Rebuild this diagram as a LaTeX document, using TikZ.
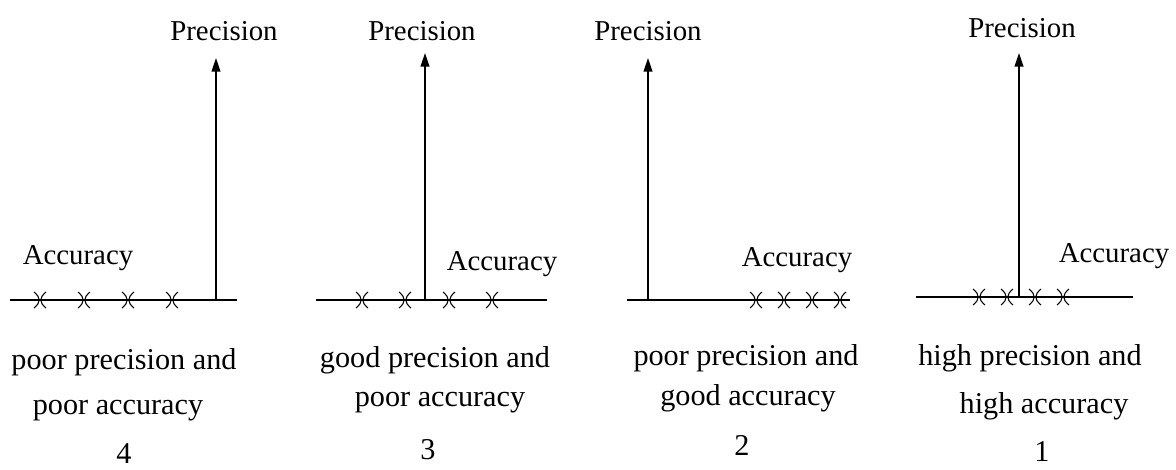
\documentclass[tikz,border=0pt]{standalone}
\usepackage{fontspec}
\setmainfont{Liberation Serif}
\usetikzlibrary{arrows.meta}
\tikzset{
  axis/.style={line width=1.1pt,black},
  yaxis/.style={line width=1.1pt,black,-{Triangle[length=3.4mm,width=2.2mm]}},
  lbl/.style={font=\fontsize{20.5}{24}\selectfont,inner sep=0pt},
  caption/.style={font=\fontsize{21.5}{25}\selectfont,inner sep=0pt,align=center},
  hit/.pic={\draw[line width=0.75pt] (-6,-8) .. controls (1,-2) and (1,2) .. (-6,8);
            \draw[line width=0.75pt] (6,-8) .. controls (-1,-2) and (-1,2) .. (6,8);}
}
\begin{document}
\begin{tikzpicture}[x=0.025cm,y=-0.025cm]
\useasboundingbox (0,0) rectangle (1176,469);
% panel 4: poor precision, poor accuracy
\coordinate (l4) at (10,300);
\coordinate (r4) at (237,300);
\coordinate (o4) at (216,300);
\coordinate (t4) at (216,58);
\draw[axis] (l4) -- (r4);
\draw[yaxis] (o4) -- (t4);
\node[lbl] (p4) at (224,31) {Precision};
\node[lbl] (a4) at (78,258) {Accuracy};
\foreach \x in {40,84,128,172} {\pic at (\x,300) {hit};}
\node[caption] (c4a) at (124,362) {poor precision and};
\node[caption] (c4b) at (118,411) {poor accuracy};
\node[caption] (n4) at (124,454) {4};
% panel 3: good precision, poor accuracy
\coordinate (l3) at (316,300);
\coordinate (r3) at (547,300);
\coordinate (o3) at (425,300);
\coordinate (t3) at (425,53);
\draw[axis] (l3) -- (r3);
\draw[yaxis] (o3) -- (t3);
\node[lbl] (p3) at (422,31) {Precision};
\node[lbl] (a3) at (502,264) {Accuracy};
\foreach \x in {362,405,449,492} {\pic at (\x,300) {hit};}
\node[caption] (c3a) at (435,360) {good precision and};
\node[caption] (c3b) at (440,403) {poor accuracy};
\node[caption] (n3) at (428,450) {3};
% panel 2: poor precision, good accuracy
\coordinate (l2) at (627,300);
\coordinate (r2) at (850,300);
\coordinate (o2) at (648,300);
\coordinate (t2) at (648,58);
\draw[axis] (l2) -- (r2);
\draw[yaxis] (o2) -- (t2);
\node[lbl] (p2) at (648,31) {Precision};
\node[lbl] (a2) at (797,260) {Accuracy};
\foreach \x in {756,784,812,840} {\pic at (\x,300) {hit};}
\node[caption] (c2a) at (746,358) {poor precision and};
\node[caption] (c2b) at (748,398) {good accuracy};
\node[caption] (n2) at (742,445) {2};
% panel 1: high precision, high accuracy
\coordinate (l1) at (916,297);
\coordinate (r1) at (1133,297);
\coordinate (o1) at (1019,297);
\coordinate (t1) at (1019,53);
\draw[axis] (l1) -- (r1);
\draw[yaxis] (o1) -- (t1);
\node[lbl] (p1) at (1022,28) {Precision};
\node[lbl] (a1) at (1114,256) {Accuracy};
\foreach \x in {979,1007,1035,1063} {\pic at (\x,297) {hit};}
\node[caption] (c1a) at (1030,358) {high precision and};
\node[caption] (c1b) at (1044,406) {high accuracy};
\node[caption] (n1) at (1042,452) {1};
\end{tikzpicture}
\end{document}
